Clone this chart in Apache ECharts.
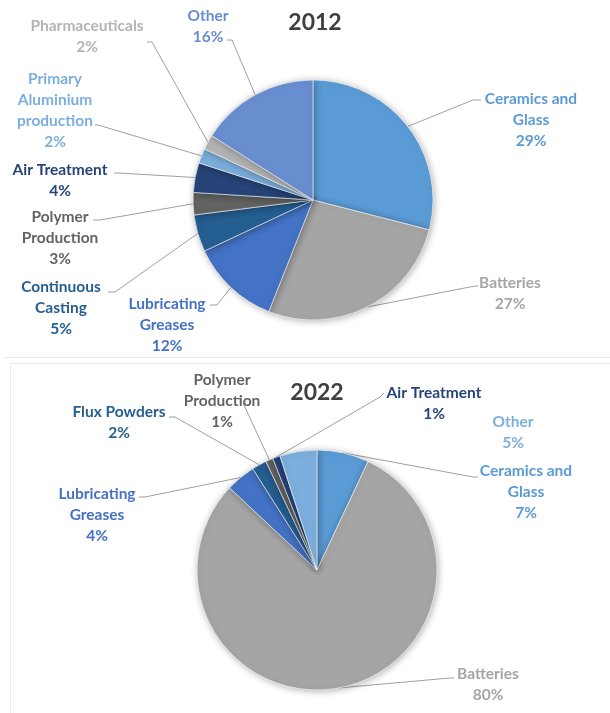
<!DOCTYPE html>
<html>
<head>
<meta charset="utf-8">
<script src="https://cdn.jsdelivr.net/npm/echarts@6/dist/echarts.min.js"></script>
<style>
  html, body { margin: 0; padding: 0; background: #ffffff; }
  #chart { width: 610px; height: 713px; }
</style>
</head>
<body>
<div id="chart"></div>
<script>
// Years shown as pie titles
const years = ['2012', '2022'];

// 2012 end-use shares (clockwise from 12 o'clock)
const categories2012 = [
  'Ceramics and\nGlass', 'Batteries', 'Lubricating\nGreases', 'Continuous\nCasting',
  'Polymer\nProduction', 'Air Treatment', 'Primary\nAluminium\nproduction',
  'Pharmaceuticals', 'Other'
];
const values2012 = [29, 27, 12, 5, 3, 4, 2, 2, 16];

// 2022 end-use shares (clockwise from 12 o'clock)
const categories2022 = [
  'Ceramics and\nGlass', 'Batteries', 'Lubricating\nGreases', 'Flux Powders',
  'Polymer\nProduction', 'Air Treatment', 'Other'
];
const values2022 = [7, 80, 4, 2, 1, 1, 5];

// Slice colours (label text uses the same colour as its slice)
const colors2012 = ['#5b9bd5', '#a5a5a5', '#4472c4', '#255e91', '#636363', '#264478', '#7cafdd', '#b4b4b4', '#698ed0'];
const colors2022 = ['#5b9bd5', '#a5a5a5', '#4472c4', '#255e91', '#636363', '#264478', '#7cafdd'];

// Label placement: text centre, elbow of the leader line, end of the leader line
const labelPlacement = [
  [
    { at: [531, 120], bend: [473, 100], end: [481, 100] },
    { at: [510, 293], bend: [475, 286], end: [478, 286] },
    { at: [167, 325], bend: [217, 305], end: [210, 305] },
    { at: [61, 308],  bend: [115, 292], end: [108, 292] },
    { at: [60, 238],  bend: [100, 220], end: [93, 220] },
    { at: [60, 180],  bend: [118, 173], end: [114, 173] },
    { at: [55, 110],  bend: [98, 125],  end: [95, 125] },
    { at: [87, 36],   bend: [152, 42],  end: [147, 42] },
    { at: [208, 26],  bend: [232, 40],  end: [227, 40] }
  ],
  [
    { at: [526, 492], bend: [473, 477], end: [478, 477] },
    { at: [488, 684], bend: [450, 678], end: [454, 678] },
    { at: [97, 515],  bend: [145, 497], end: [139, 497] },
    { at: [119, 422], bend: [175, 417], end: [169, 417] },
    { at: [222, 401], bend: [243, 403], end: [243, 403] },
    { at: [434, 403], bend: [380, 397], end: [384, 393] },
    { at: [513, 432], bend: null, end: null }
  ]
];

const FONT = 'Lato, "Open Sans", sans-serif';

function buildData(names, values, colors, noLine) {
  return names.map((n, i) => {
    const item = {
      name: n,
      value: values[i],
      itemStyle: { color: colors[i] },
      label: { color: colors[i] }
    };
    if (noLine && noLine.indexOf(i) >= 0) item.labelLine = { show: false };
    return item;
  });
}

function pieSeries(center, data) {
  return {
    type: 'pie',
    center: center,
    radius: 120,
    startAngle: 90,
    clockwise: true,
    avoidLabelOverlap: false,
    animation: false,
    data: data,
    itemStyle: {
      borderColor: '#ffffff',
      borderWidth: 0.6,
      shadowBlur: 7,
      shadowOffsetX: 1,
      shadowOffsetY: 1,
      shadowColor: 'rgba(0,0,0,0.3)'
    },
    label: {
      show: true,
      position: 'outside',
      formatter: '{b}\n{c}%',
      fontFamily: FONT,
      fontWeight: 'bold',
      fontSize: 15.5,
      lineHeight: 21,
      align: 'center'
    },
    labelLine: {
      show: true,
      length: 10,
      length2: 10,
      lineStyle: { color: '#a0a0a0', width: 1 }
    },
    labelLayout: function (params) {
      const p = labelPlacement[params.seriesIndex][params.dataIndex];
      const out = { x: p.at[0], y: p.at[1], align: 'center', verticalAlign: 'middle' };
      if (p.bend && params.labelLinePoints) {
        out.labelLinePoints = [params.labelLinePoints[0], p.bend, p.end];
      }
      return out;
    },
    emphasis: { disabled: true }
  };
}

const chart = echarts.init(document.getElementById('chart'), null, { renderer: 'canvas' });

chart.setOption({
  backgroundColor: '#ffffff',
  animation: false,
  graphic: [
    // faint panel frames around each chart
    { type: 'line', shape: { x1: 4, y1: 357.5, x2: 610, y2: 357.5 }, style: { stroke: '#ececec', lineWidth: 1 }, silent: true },
    { type: 'rect', shape: { x: 10.5, y: 363.5, width: 610, height: 360 }, style: { fill: 'none', stroke: '#ececec', lineWidth: 1 }, silent: true },
    { type: 'text', x: 315, y: 23, style: { text: years[0], align: 'center', verticalAlign: 'middle', font: 'bold 23px ' + FONT, fill: '#404040' }, z: 10 },
    { type: 'text', x: 317, y: 393, style: { text: years[1], align: 'center', verticalAlign: 'middle', font: 'bold 23px ' + FONT, fill: '#404040' }, z: 10 }
  ],
  series: [
    pieSeries([313, 200], buildData(categories2012, values2012, colors2012)),
    pieSeries([317, 570], buildData(categories2022, values2022, colors2022, [6]))
  ]
});
</script>
</body>
</html>
